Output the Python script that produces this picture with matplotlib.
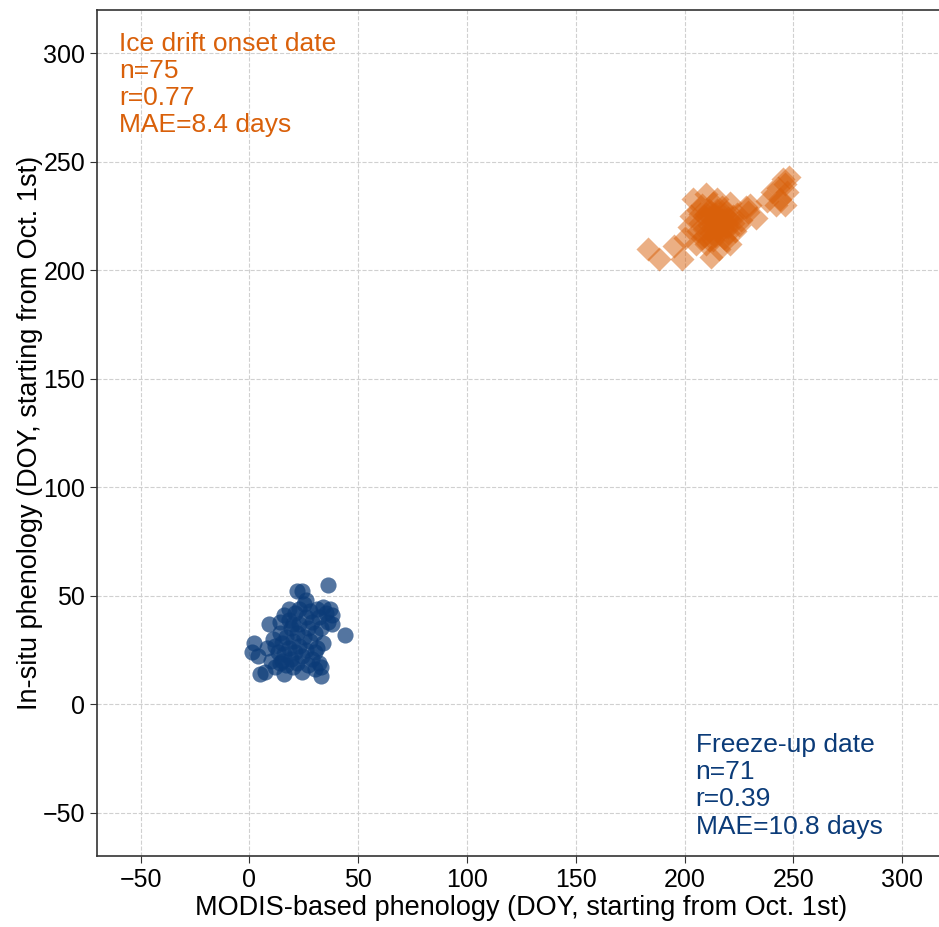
import matplotlib
matplotlib.use("Agg")
import matplotlib.pyplot as plt

plt.rcParams["font.family"] = ["Liberation Sans", "DejaVu Sans"]

# ── 데이터 ──────────────────────────────────────
# 결빙일 (Freeze-up date): MODIS vs 현장관측
freeze_modis = [1, 2, 4, 5, 7, 8, 9, 10, 11, 12, 13, 14, 14, 15, 15, 16, 16, 17,
                17, 18, 18, 19, 19, 20, 20, 21, 21, 22, 22, 22, 23, 23, 24, 24,
                24, 25, 25, 26, 26, 27, 27, 28, 28, 29, 29, 30, 30, 31, 31, 32,
                32, 33, 33, 34, 34, 35, 36, 36, 37, 38, 38, 44, 16, 20, 12, 26,
                30, 18, 14, 33, 23]
freeze_insitu = [24, 28, 22, 14, 15, 26, 37, 20, 30, 17, 24, 33, 38, 20, 28, 41,
                 23, 18, 31, 44, 26, 21, 35, 17, 29, 42, 24, 52, 33, 19, 37, 27,
                 52, 15, 22, 46, 31, 40, 25, 18, 35, 43, 29, 21, 38, 33, 16, 44,
                 26, 19, 40, 13, 35, 28, 45, 42, 38, 55, 44, 41, 37, 32, 14, 37,
                 27, 48, 24, 39, 19, 17, 44]

# 유빙 시작일 (Ice drift onset date)
drift_modis = [183, 188, 195, 199, 200, 202, 203, 204, 205, 206, 206, 207, 208,
               208, 209, 209, 210, 210, 211, 211, 212, 212, 212, 213, 213, 214,
               214, 215, 215, 215, 216, 216, 217, 217, 218, 218, 219, 219, 220,
               220, 221, 221, 222, 223, 224, 225, 226, 228, 229, 230, 233, 238,
               240, 242, 243, 244, 245, 246, 247, 248, 246, 210, 213, 214, 216,
               217, 212, 209, 211, 215, 218, 207, 220, 222, 219]
drift_insitu = [210, 205, 211, 205, 215, 220, 225, 233, 212, 218, 228, 222, 215,
                230, 219, 225, 212, 235, 221, 228, 206, 217, 224, 231, 214, 220,
                226, 218, 222, 233, 210, 225, 219, 229, 215, 223, 227, 220, 217,
                224, 231, 212, 222, 218, 226, 221, 223, 229, 227, 230, 224, 232,
                236, 230, 238, 233, 242, 240, 236, 243, 230, 226, 222, 216, 220,
                223, 227, 216, 214, 228, 226, 226, 220, 225, 214]

freeze_stats = ["Freeze-up date", "n=71", "r=0.39", "MAE=10.8 days"]
drift_stats = ["Ice drift onset date", "n=75", "r=0.77", "MAE=8.4 days"]

ticks = [-50, 0, 50, 100, 150, 200, 250, 300]

BLUE = "#0b3b78"
ORANGE = "#d9600a"

# ── 그림 ────────────────────────────────────────
fig = plt.figure(figsize=(9.39, 9.27), dpi=100)
ax = fig.add_axes([0.1033, 0.0766, 0.904, 0.9126])

ax.scatter(freeze_modis, freeze_insitu, s=135, marker="o", color=BLUE,
           alpha=0.7, linewidths=0, zorder=3)
ax.scatter(drift_modis, drift_insitu, s=150, marker="D", color=ORANGE,
           alpha=0.5, linewidths=0, zorder=3)

ax.text(-60, 310, "\n".join(drift_stats), color=ORANGE, fontsize=19,
        va="top", ha="left", linespacing=1.17)
ax.text(205, -62, "\n".join(freeze_stats), color=BLUE, fontsize=19,
        va="bottom", ha="left", linespacing=1.17)

ax.set_xlim(-70, 320)
ax.set_ylim(-70, 320)
ax.set_xticks(ticks)
ax.set_yticks(ticks)
ax.tick_params(labelsize=18, direction="out", length=5, color="#333333")
ax.set_xlabel("MODIS-based phenology (DOY, starting from Oct. 1st)",
              fontsize=19.5, labelpad=2)
ax.set_ylabel("In-situ phenology (DOY, starting from Oct. 1st)",
              fontsize=19.5, labelpad=0)
ax.grid(True, linestyle="--", color="#d0d0d0", linewidth=0.8)
ax.set_axisbelow(True)
for sp in ax.spines.values():
    sp.set_color("#333333")
    sp.set_linewidth(1.2)

fig.savefig("out.png", dpi=100)
